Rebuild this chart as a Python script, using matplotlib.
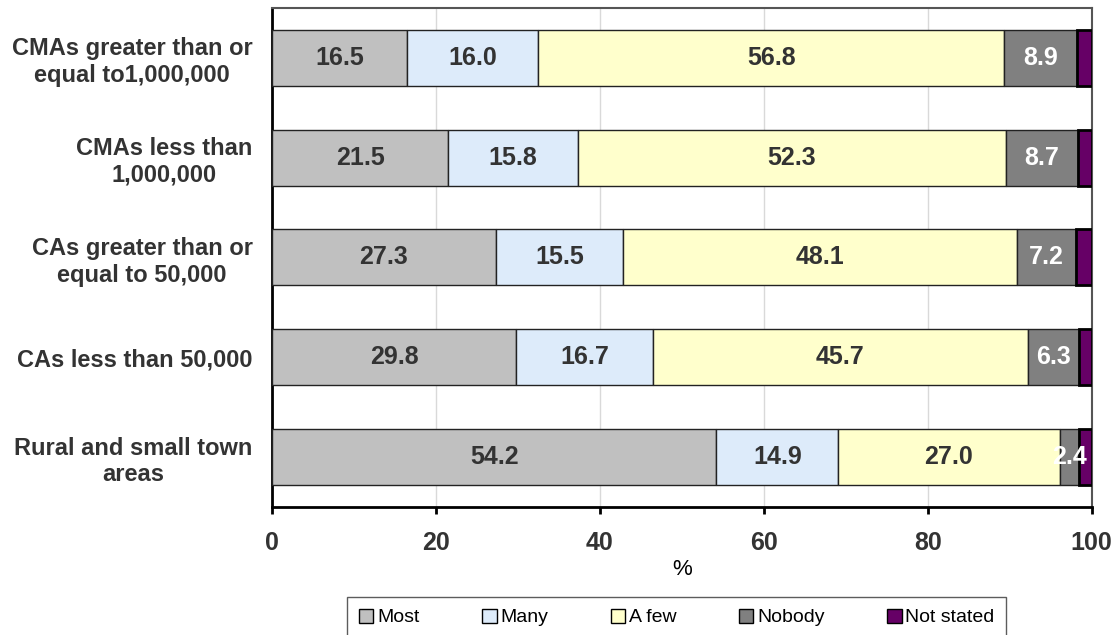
import matplotlib
matplotlib.use("Agg")
import matplotlib.pyplot as plt
import numpy as np

plt.rcParams['font.family'] = ['Liberation Sans', 'DejaVu Sans']

categories = [
    "CMAs greater than or\nequal to1,000,000",
    "CMAs less than\n1,000,000",
    "CAs greater than or\nequal to 50,000",
    "CAs less than 50,000",
    "Rural and small town\nareas",
]
series_names = ["Most", "Many", "A few", "Nobody", "Not stated"]
most = [16.5, 21.5, 27.3, 29.8, 54.2]
many = [16.0, 15.8, 15.5, 16.7, 14.9]
a_few = [56.8, 52.3, 48.1, 45.7, 27.0]
nobody = [8.9, 8.7, 7.2, 6.3, 2.4]
not_stated = [1.8, 1.7, 1.9, 1.5, 1.5]

colors = ["#C0C0C0", "#DDEBFA", "#FFFFCC", "#808080", "#660066"]
label_colors = ["#333333", "#333333", "#333333", "white", None]

fig = plt.figure(figsize=(11.15, 6.35), dpi=100)
ax = fig.add_axes([0.244, 0.2016, 0.735, 0.786])

y = np.arange(len(categories))
left = np.zeros(len(categories))
for i, vals in enumerate([most, many, a_few, nobody, not_stated]):
    vals = np.array(vals)
    if i == 4:
        ax.barh(y, vals, left=left, height=0.56, color=colors[i],
                edgecolor="black", linewidth=2, label=series_names[i], zorder=3)
    else:
        ax.barh(y, vals, left=left, height=0.56, color=colors[i],
                edgecolor="#222222", linewidth=1, label=series_names[i], zorder=3)
    if label_colors[i]:
        for yy, l, v in zip(y, left, vals):
            ax.text(l + v / 2, yy, f"{v:.1f}", ha="center", va="center",
                    fontsize=18, fontweight="bold", color=label_colors[i], zorder=5)
    left += vals

ax.set_xlim(0, 100)
ax.set_ylim(4.5, -0.5)
ax.set_xticks([0, 20, 40, 60, 80, 100])
ax.set_yticks(y)
ax.set_yticklabels(categories, fontsize=17, fontweight="bold", color="#333333",
                   multialignment="center", linespacing=1.2)
ax.tick_params(axis="y", length=0, pad=14)
ax.tick_params(axis="x", direction="out", length=5, width=2, pad=12,
               labelsize=18, labelcolor="#333333")
for lbl in ax.get_xticklabels():
    lbl.set_fontweight("bold")
ax.xaxis.grid(True, color="#D9D9D9", linewidth=1, zorder=0)
ax.set_axisbelow(True)

ax.spines["left"].set_linewidth(2)
ax.spines["bottom"].set_linewidth(2)
ax.spines["left"].set_color("black")
ax.spines["bottom"].set_color("black")
ax.spines["top"].set_color("#555555")
ax.spines["right"].set_color("#555555")
ax.spines["top"].set_linewidth(1.5)
ax.spines["right"].set_linewidth(1.5)

ax.set_xlabel("%", fontsize=16, labelpad=3)

leg = fig.legend(loc="upper center", bbox_to_anchor=(0.607, 0.06), ncol=5,
                 fontsize=14, frameon=True, fancybox=False, edgecolor="#333333",
                 handlelength=0.75, handleheight=0.75, handletextpad=0.2,
                 columnspacing=3.2, borderpad=0.6, borderaxespad=0)
leg.get_frame().set_linewidth(1)
for h in leg.legend_handles:
    h.set_edgecolor("black")
    h.set_linewidth(1)

fig.savefig("out.png", dpi=100)
